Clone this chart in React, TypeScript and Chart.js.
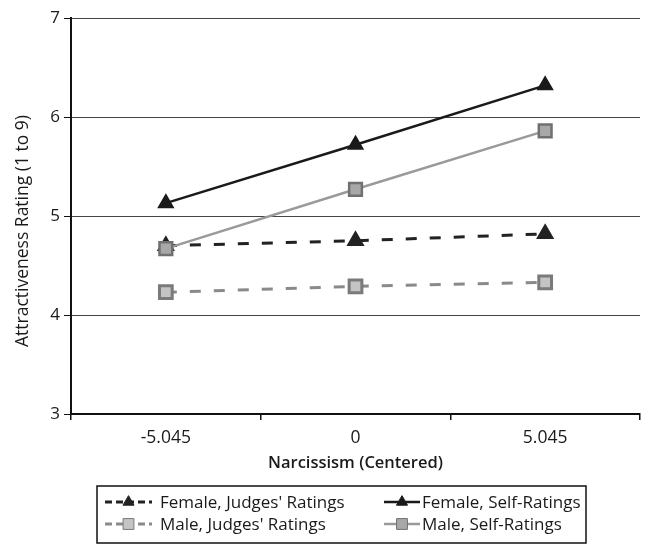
import React, { useEffect, useRef } from "react";
import { Chart, registerables } from "chart.js";

Chart.register(...registerables);

const categories = ["-5.045", "0", "5.045"];
const femaleJudges = [4.7, 4.75, 4.82];
const femaleSelf = [5.13, 5.72, 6.32];
const maleJudges = [4.23, 4.29, 4.33];
const maleSelf = [4.67, 5.27, 5.86];
const seriesLabels = [
  "Female, Judges' Ratings",
  "Female, Self-Ratings",
  "Male, Judges' Ratings",
  "Male, Self-Ratings",
];
const yTicks = [3, 4, 5, 6, 7];
const xTitle = "Narcissism (Centered)";
const yTitle = "Attractiveness Rating (1 to 9)";

const FONT = "'Open Sans', Lato, sans-serif";
const TEXT = "#1a1a1a";

// layout (position / style only)
const yTitlePos = { x: 23, y: 231 };
const legendLayout = {
  box: { x: 97, y: 486, w: 489, h: 57 },
  rows: [502, 524],
  cols: [
    { x0: 105, x1: 152, text: 160 },
    { x0: 384, x1: 420, text: 422 },
  ],
};

function drawMarker(ctx: CanvasRenderingContext2D, style: string, x: number, y: number, r: number, fill: string, stroke: string) {
  ctx.save();
  ctx.beginPath();
  if (style === "triangle") {
    ctx.moveTo(x, y - r);
    ctx.lineTo(x + r * 0.866, y + r * 0.5);
    ctx.lineTo(x - r * 0.866, y + r * 0.5);
    ctx.closePath();
  } else {
    const s = Math.SQRT1_2 * r;
    ctx.rect(x - s, y - s, 2 * s, 2 * s);
  }
  ctx.fillStyle = fill;
  ctx.fill();
  ctx.lineWidth = 1;
  ctx.strokeStyle = stroke;
  ctx.setLineDash([]);
  ctx.stroke();
  ctx.restore();
}

const yTitlePlugin = {
  id: "yTitlePlugin",
  afterDraw(chart: any) {
    const ctx: CanvasRenderingContext2D = chart.ctx;
    ctx.save();
    ctx.translate(yTitlePos.x, yTitlePos.y);
    ctx.rotate(-Math.PI / 2);
    ctx.font = `17.5px ${FONT}`;
    ctx.fillStyle = TEXT;
    ctx.textAlign = "center";
    ctx.textBaseline = "middle";
    ctx.fillText(yTitle, 0, 0);
    ctx.restore();
  },
};

const boxLegend = {
  id: "boxLegend",
  afterDraw(chart: any) {
    const ctx: CanvasRenderingContext2D = chart.ctx;
    const L = legendLayout;
    ctx.save();
    ctx.strokeStyle = "#111";
    ctx.lineWidth = 1.5;
    ctx.setLineDash([]);
    ctx.strokeRect(L.box.x, L.box.y, L.box.w, L.box.h);
    ctx.font = `17px ${FONT}`;
    ctx.textBaseline = "middle";
    ctx.fillStyle = TEXT;
    chart.data.datasets.forEach((ds: any, i: number) => {
      const row = Math.floor(i / 2);
      const col = L.cols[i % 2];
      const y = L.rows[row];
      ctx.save();
      ctx.beginPath();
      ctx.strokeStyle = ds.borderColor;
      ctx.lineWidth = ds.borderWidth;
      ctx.setLineDash(ds.borderDash && ds.borderDash.length ? [7, 4] : []);
      ctx.moveTo(col.x0, y);
      ctx.lineTo(col.x1, y);
      ctx.stroke();
      ctx.restore();
      drawMarker(ctx, ds.pointStyle, (col.x0 + col.x1) / 2, y, ds.pointRadius * 0.85, ds.pointBackgroundColor, ds.pointBorderColor);
      ctx.fillStyle = TEXT;
      ctx.fillText(ds.label, col.text, y + 1);
    });
    ctx.restore();
  },
};

export default function App() {
  const ref = useRef<HTMLCanvasElement | null>(null);
  useEffect(() => {
    if (!ref.current) return;
    const chart = new Chart(ref.current, {
      type: "line",
      data: {
        labels: categories,
        datasets: [
          {
            label: seriesLabels[0],
            data: femaleJudges,
            borderColor: "#222",
            borderWidth: 3,
            borderDash: [11, 13],
            pointStyle: "triangle",
            pointRadius: 7.5,
            pointBackgroundColor: "#222",
            pointBorderColor: "#222",
            order: 4,
          },
          {
            label: seriesLabels[1],
            data: femaleSelf,
            borderColor: "#1a1a1a",
            borderWidth: 2.5,
            pointStyle: "triangle",
            pointRadius: 7.5,
            pointBackgroundColor: "#1a1a1a",
            pointBorderColor: "#1a1a1a",
            order: 2,
          },
          {
            label: seriesLabels[2],
            data: maleJudges,
            borderColor: "#8a8a8a",
            borderWidth: 3,
            borderDash: [11, 13],
            pointStyle: "rect",
            pointRadius: 9,
            pointBackgroundColor: "#c4c4c4",
            pointBorderColor: "#7a7a7a",
            order: 3,
          },
          {
            label: seriesLabels[3],
            data: maleSelf,
            borderColor: "#9a9a9a",
            borderWidth: 2.5,
            pointStyle: "rect",
            pointRadius: 9,
            pointBackgroundColor: "#a8a8a8",
            pointBorderColor: "#707070",
            order: 1,
          },
        ],
      },
      options: {
        animation: false,
        responsive: false,
        events: [],
        layout: { padding: { left: 0, right: 6, top: 18, bottom: 65 } },
        plugins: {
          legend: { display: false },
          tooltip: { enabled: false },
        },
        scales: {
          x: {
            type: "category",
            offset: true,
            grid: {
              offset: true,
              drawOnChartArea: false,
              drawTicks: true,
              tickLength: 6,
              color: "#111",
              lineWidth: 1.5,
            },
            border: { display: true, color: "#111", width: 2 },
            ticks: {
              color: TEXT,
              font: { family: FONT, size: 17.5 },
              padding: 8,
            },
            title: {
              display: true,
              text: xTitle,
              color: TEXT,
              font: { family: FONT, size: 16.5, weight: "600" },
              padding: { top: 0, bottom: 7 },
            },
            afterFit(scale: any) {
              scale.height = 66;
            },
          },
          y: {
            min: 3,
            max: 7,
            afterBuildTicks(scale: any) {
              scale.ticks = yTicks.map((v) => ({ value: v }));
            },
            grid: {
              color: "#444",
              lineWidth: 1,
              borderDash: [2, 1],
              tickBorderDash: [],
              tickColor: "#111",
              tickLength: 7,
            },
            border: { display: true, color: "#111", width: 2 },
            ticks: {
              color: TEXT,
              font: { family: FONT, size: 17 },
              padding: 4,
            },
            title: { display: false },
            afterFit(scale: any) {
              scale.width = 71;
            },
          },
        },
      },
      plugins: [boxLegend, yTitlePlugin],
    } as any);
    return () => chart.destroy();
  }, []);
  return (
    <div style={{ position: "absolute", left: 0, top: 0, width: 652, height: 545, background: "#fff" }}>
      <canvas ref={ref} width={652} height={545} style={{ width: 652, height: 545, display: "block" }} />
    </div>
  );
}
